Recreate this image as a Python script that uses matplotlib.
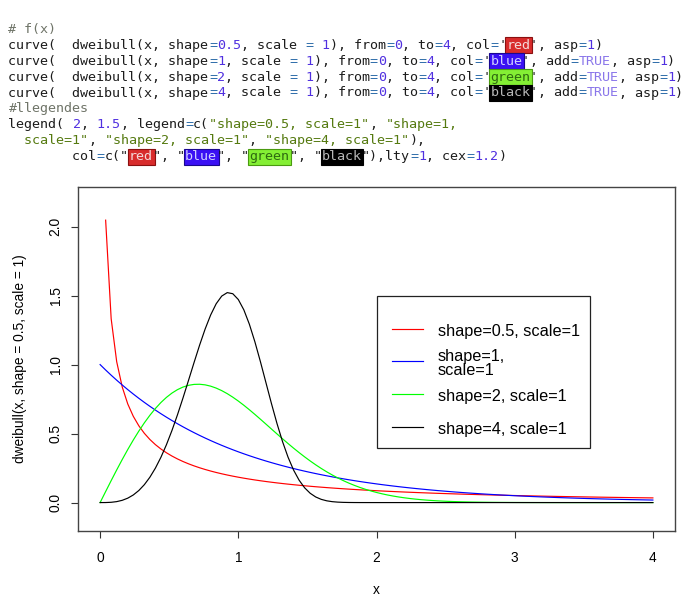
import re
import numpy as np
import matplotlib
matplotlib.use("Agg")
import matplotlib.pyplot as plt
from matplotlib.patches import Rectangle

# curves: dweibull(x, shape, scale) on [0, 4], 101 points like R's curve()
shapes = [0.5, 1, 2, 4]
scales = [1, 1, 1, 1]
curve_colors = ["#ff0000", "#0000ff", "#00ff00", "#000000"]
legend_labels = ["shape=0.5, scale=1", "shape=1,\nscale=1",
                 "shape=2, scale=1", "shape=4, scale=1"]
legend_xy = (2, 1.5)
x_from, x_to, n_points = 0, 4, 101
x_ticks = [0, 1, 2, 3, 4]
y_ticks = [0.0, 0.5, 1.0, 1.5, 2.0]

code_lines = [
    "# f(x)",
    "curve(  dweibull(x, shape=0.5, scale = 1), from=0, to=4, col='red', asp=1)",
    "curve(  dweibull(x, shape=1, scale = 1), from=0, to=4, col='blue', add=TRUE, asp=1)",
    "curve(  dweibull(x, shape=2, scale = 1), from=0, to=4, col='green', add=TRUE, asp=1)",
    "curve(  dweibull(x, shape=4, scale = 1), from=0, to=4, col='black', add=TRUE, asp=1)",
    "#llegendes",
    "legend( 2, 1.5, legend=c(\"shape=0.5, scale=1\", \"shape=1,",
    "  scale=1\", \"shape=2, scale=1\", \"shape=4, scale=1\"),",
    "        col=c(\"red\", \"blue\", \"green\", \"black\"),lty=1, cex=1.2)",
]

# editor colours
style_colors = {
    "txt": "#1c1c1c", "op": "#2a6aa8", "num": "#5030e0", "str": "#557a10",
    "kw": "#8a76ea", "com": "#6f7468",
}
highlight = {  # background, text, edge
    "red": ("#d82c2c", "#f4dada", "#8a1010"),
    "blue": ("#3a10f4", "#d0d0ff", "#1a0890"),
    "green": ("#84ef34", "#2e6a10", "#4a9a10"),
    "black": ("#000000", "#b8b8b8", "#000000"),
}

W, H, DPI = 690, 603, 100
fig = plt.figure(figsize=(W / DPI, H / DPI), dpi=DPI)


def char_styles(line, in_str):
    st = ["txt"] * len(line)
    i = 0
    if in_str:
        j = line.find('"')
        for k in range(j + 1):
            st[k] = "str"
        i = j + 1
        in_str = False
    while i < len(line):
        c = line[i]
        if c == "#":
            for k in range(i, len(line)):
                st[k] = "com"
            break
        if c in "\"'":
            j = line.find(c, i + 1)
            if j < 0:
                for k in range(i, len(line)):
                    st[k] = "str"
                in_str = True
                break
            word = line[i + 1:j]
            if word in highlight:
                for k in range(i + 1, j):
                    st[k] = "hl:" + word
            else:
                for k in range(i, j + 1):
                    st[k] = "str"
            i = j + 1
            continue
        m = re.match(r"[A-Za-z_.][A-Za-z_.0-9]*", line[i:])
        if m and not c.isdigit() and c != ".":
            if m.group() == "TRUE":
                for k in range(i, i + 4):
                    st[k] = "kw"
            i += len(m.group())
            continue
        m = re.match(r"\d+(\.\d+)?", line[i:])
        if m:
            for k in range(i, i + len(m.group())):
                st[k] = "num"
            i += len(m.group())
            continue
        if c == "=":
            st[i] = "op"
        i += 1
    return st, in_str


cw = 8.03
x0_code = 8.5
in_str = False
for n, line in enumerate(code_lines):
    base = 32.7 + 15.95 * n
    st, in_str = char_styles(line, in_str)
    k = 0
    while k < len(line):
        j = k
        while j < len(line) and st[j] == st[k]:
            j += 1
        run = line[k:j]
        xs = x0_code + k * cw
        s = st[k]
        if s.startswith("hl:"):
            bg, fg, ec = highlight[s[3:]]
            fig.patches.append(Rectangle(((xs - 1) / W, 1 - (base + 4.2) / H),
                                         (len(run) * cw + 2.5) / W, 15.4 / H,
                                         transform=fig.transFigure, facecolor=bg,
                                         edgecolor=ec, linewidth=0.8, zorder=1))
            color = fg
        else:
            color = style_colors[s]
        if run.strip():
            fig.text(xs / W, 1 - base / H, run, family="DejaVu Sans Mono",
                     fontsize=9.6, color=color, ha="left", va="baseline", zorder=2)
        k = j

# ---- plot ----
ax_l, ax_r, ax_t, ax_b = 78, 675, 187, 531
ax = fig.add_axes([ax_l / W, 1 - ax_b / H, (ax_r - ax_l) / W, (ax_b - ax_t) / H])
ax.set_xlim(-0.16, 4.16)
ax.set_ylim(-0.206, 2.287)

x = np.linspace(x_from, x_to, n_points)
with np.errstate(divide="ignore", invalid="ignore"):
    for k, lam, col in zip(shapes, scales, curve_colors):
        y = (k / lam) * (x / lam) ** (k - 1) * np.exp(-(x / lam) ** k)
        y[~np.isfinite(y)] = np.nan
        ax.plot(x, y, color=col, lw=0.85)

font = "Liberation Sans"
ax.set_xticks(x_ticks)
ax.set_xticklabels([str(v) for v in x_ticks], family=font, fontsize=9.9)
ax.set_yticks(y_ticks)
ax.set_yticklabels([f"{v:.1f}" for v in y_ticks], family=font, fontsize=9.9,
                   rotation=90, va="center")
ax.tick_params(direction="out", length=5, width=0.8, color="#333333", pad=9.5)
ax.tick_params(axis="y", pad=6)
for sp in ax.spines.values():
    sp.set_color("#444444")
    sp.set_linewidth(1.0)

fig.text((ax_l + ax_r) / 2 / W, 1 - 590 / H, "x", family=font, fontsize=9.9,
         ha="center", va="center")
fig.text(20 / W, 1 - (ax_t + ax_b) / 2 / H, "dweibull(x, shape = 0.5, scale = 1)",
         family=font, fontsize=9.9, rotation=90, ha="center", va="center")

# ---- legend drawn R style, anchored at legend_xy (top-left) ----
inv = ax.transData.inverted()
px0, py0 = ax.transData.transform(legend_xy)


def to_data(dx, dy):
    return inv.transform((px0 + dx, py0 - dy))


bx0, by0 = to_data(0, 0)
bx1, by1 = to_data(213, 152)
ax.add_patch(Rectangle((bx0, by1), bx1 - bx0, by0 - by1, facecolor="white",
                       edgecolor="#222222", linewidth=0.9, zorder=5))
for i, (lab, col) in enumerate(zip(legend_labels, curve_colors)):
    row = 33 + 32.8 * i
    la, ya = to_data(15, row)
    lb, _ = to_data(46, row)
    ax.plot([la, lb], [ya, ya], color=col, lw=0.85, zorder=6)
    tx, ty = to_data(61, row + 2.5)
    ax.text(tx, ty, lab, family=font, fontsize=11.7, ha="left", va="center",
            linespacing=0.9, zorder=6)

fig.savefig("out.png", dpi=DPI)
